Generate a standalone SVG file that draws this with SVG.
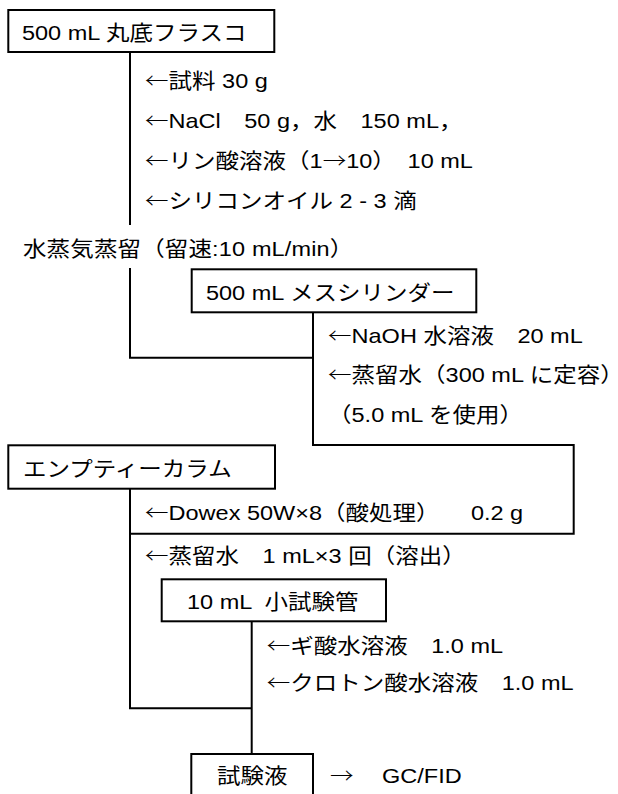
<svg xmlns="http://www.w3.org/2000/svg" width="618" height="794" viewBox="0 0 618 794">
<style>
.box{fill:#fff;stroke:#000;stroke-width:2}
.ln{fill:none;stroke:#000;stroke-width:2}
text{font-family:"Liberation Sans","Noto Sans CJK JP",sans-serif;font-size:21px;fill:#000;white-space:pre}
.ar{font-family:"Noto Sans CJK JP",sans-serif;font-weight:300}
</style>
<rect width="618" height="794" fill="#fff"/>
<g id="connectors">
<polyline class="ln" points="130,53 130,225"/>
<polyline class="ln" points="130,268 130,357.7 313,357.7"/>
<polyline class="ln" points="313,313 313,445 573.7,445 573.7,533.7 130,533.7"/>
<polyline class="ln" points="130,489 130,708.3 251.7,708.3"/>
<polyline class="ln" points="251.7,622 251.7,754"/>
</g>
<g id="n1"><rect class="box" x="8.3" y="10" width="266" height="42"/></g>
<g id="n2"><rect class="box" x="191.7" y="269.3" width="284.6" height="43"/></g>
<g id="n3"><rect class="box" x="8.3" y="445.3" width="266.7" height="43.4"/></g>
<g id="n4"><rect class="box" x="161.7" y="579.3" width="224.3" height="42"/></g>
<g id="n5"><rect class="box" x="191.3" y="754" width="121.7" height="60"/></g>
<g id="texts" transform="scale(1.12 1)">
<text x="19.6" y="40">500 mL 丸底フラスコ</text>
<text x="129.5" y="88"><tspan class="ar">←</tspan>試料 30 g</text>
<text x="129.5" y="128"><tspan class="ar">←</tspan>NaCl　50 g，水　150 mL，</text>
<text x="129.5" y="168"><tspan class="ar">←</tspan>リン酸溶液（1<tspan class="ar">→</tspan>10）　10 mL</text>
<text x="129.5" y="208"><tspan class="ar">←</tspan>シリコンオイル 2 - 3 滴</text>
<text x="20.5" y="256" textLength="295" lengthAdjust="spacing">水蒸気蒸留（留速:10 mL/min）</text>
<text x="183.9" y="300">500 mL メスシリンダー</text>
<text x="292.9" y="343"><tspan class="ar">←</tspan>NaOH 水溶液　20 mL</text>
<text x="292.9" y="382"><tspan class="ar">←</tspan>蒸留水（300 mL に定容）</text>
<text x="292.9" y="422">（5.0 mL を使用）</text>
<text x="20.5" y="476">エンプティーカラム</text>
<text x="129.5" y="520"><tspan class="ar">←</tspan>Dowex 50W×8（酸処理）　   0.2 g</text>
<text x="129.5" y="563"><tspan class="ar">←</tspan>蒸留水　1 mL×3 回（溶出）</text>
<text x="167" y="609">10 mL  小試験管</text>
<text x="238.1" y="653"><tspan class="ar">←</tspan>ギ酸水溶液　1.0 mL</text>
<text x="238.1" y="690"><tspan class="ar">←</tspan>クロトン酸水溶液　1.0 mL</text>
<text x="193.75" y="783">試験液</text>
<text x="294.6" y="783"><tspan class="ar">→</tspan></text>
<text x="341.1" y="783">GC/FID</text>
</g>
</svg>
